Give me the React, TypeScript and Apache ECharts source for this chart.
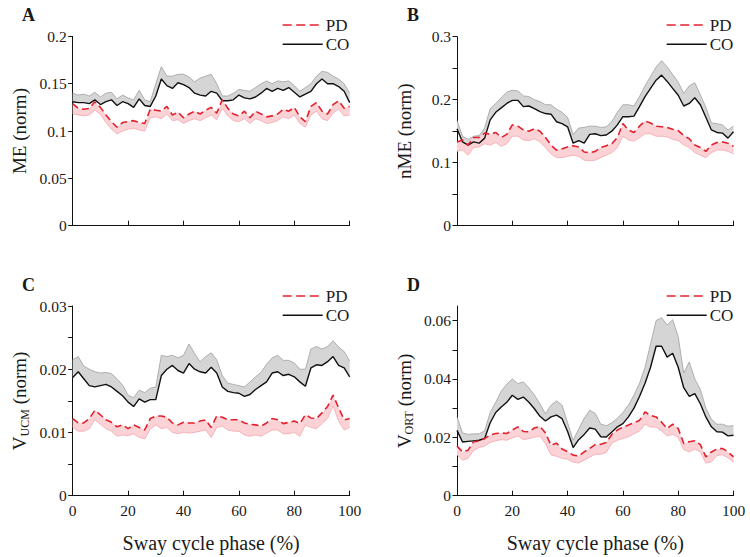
import React, { useEffect, useRef } from 'react';
import * as echarts from 'echarts';

const phase = [0, 2, 4, 6, 8, 10, 12, 14, 16, 18, 20, 22, 24, 26, 28, 30, 32, 34, 36, 38, 40, 42, 44, 46, 48, 50, 52, 54, 56, 58, 60, 62, 64, 66, 68, 70, 72, 74, 76, 78, 80, 82, 84, 86, 88, 90, 92, 94, 96, 98, 100];

// Panel A: ME
const meCoMean = [0.131, 0.130, 0.130, 0.129, 0.133, 0.128, 0.131, 0.133, 0.127, 0.131, 0.129, 0.125, 0.134, 0.127, 0.126, 0.137, 0.155, 0.148, 0.145, 0.151, 0.149, 0.146, 0.140, 0.138, 0.137, 0.142, 0.140, 0.132, 0.132, 0.133, 0.138, 0.135, 0.134, 0.136, 0.140, 0.145, 0.142, 0.145, 0.143, 0.146, 0.141, 0.136, 0.139, 0.142, 0.150, 0.155, 0.150, 0.150, 0.147, 0.142, 0.130];
const meCoUpper = [0.140, 0.138, 0.139, 0.137, 0.141, 0.136, 0.140, 0.141, 0.134, 0.138, 0.135, 0.133, 0.143, 0.133, 0.131, 0.150, 0.168, 0.158, 0.158, 0.160, 0.160, 0.157, 0.152, 0.156, 0.158, 0.160, 0.150, 0.137, 0.137, 0.140, 0.144, 0.143, 0.142, 0.146, 0.150, 0.153, 0.150, 0.153, 0.152, 0.153, 0.148, 0.142, 0.146, 0.150, 0.158, 0.163, 0.162, 0.158, 0.155, 0.150, 0.140];
const mePdMean = [0.129, 0.124, 0.123, 0.124, 0.131, 0.125, 0.117, 0.110, 0.104, 0.109, 0.110, 0.111, 0.109, 0.108, 0.123, 0.122, 0.121, 0.126, 0.117, 0.120, 0.114, 0.118, 0.121, 0.118, 0.122, 0.125, 0.119, 0.133, 0.124, 0.118, 0.116, 0.121, 0.114, 0.121, 0.118, 0.115, 0.116, 0.118, 0.123, 0.121, 0.125, 0.115, 0.110, 0.126, 0.130, 0.121, 0.118, 0.128, 0.132, 0.124, 0.126];
const mePdLower = [0.118, 0.117, 0.116, 0.117, 0.122, 0.118, 0.109, 0.102, 0.097, 0.100, 0.102, 0.103, 0.101, 0.100, 0.114, 0.115, 0.113, 0.118, 0.111, 0.112, 0.108, 0.111, 0.113, 0.111, 0.114, 0.117, 0.112, 0.124, 0.116, 0.111, 0.110, 0.113, 0.108, 0.113, 0.111, 0.108, 0.109, 0.111, 0.115, 0.113, 0.117, 0.108, 0.104, 0.117, 0.121, 0.113, 0.111, 0.119, 0.123, 0.116, 0.117];

// Panel B: nME
const nmeCoMean = [0.154, 0.133, 0.128, 0.133, 0.131, 0.139, 0.168, 0.180, 0.187, 0.194, 0.199, 0.199, 0.189, 0.190, 0.186, 0.181, 0.178, 0.177, 0.165, 0.162, 0.157, 0.131, 0.135, 0.131, 0.145, 0.146, 0.143, 0.144, 0.150, 0.160, 0.173, 0.173, 0.174, 0.189, 0.205, 0.218, 0.231, 0.239, 0.229, 0.218, 0.207, 0.190, 0.194, 0.203, 0.192, 0.172, 0.152, 0.148, 0.147, 0.139, 0.149];
const nmeCoUpper = [0.167, 0.142, 0.137, 0.142, 0.143, 0.155, 0.186, 0.194, 0.203, 0.212, 0.215, 0.214, 0.206, 0.205, 0.200, 0.197, 0.192, 0.192, 0.185, 0.180, 0.172, 0.145, 0.155, 0.156, 0.158, 0.158, 0.156, 0.157, 0.165, 0.180, 0.192, 0.192, 0.190, 0.205, 0.222, 0.237, 0.252, 0.262, 0.252, 0.240, 0.228, 0.210, 0.222, 0.227, 0.208, 0.188, 0.163, 0.162, 0.160, 0.152, 0.158];
const nmePdMean = [0.133, 0.136, 0.128, 0.140, 0.140, 0.147, 0.145, 0.148, 0.140, 0.145, 0.160, 0.158, 0.152, 0.150, 0.154, 0.150, 0.140, 0.128, 0.120, 0.122, 0.125, 0.127, 0.125, 0.117, 0.116, 0.118, 0.124, 0.127, 0.130, 0.140, 0.162, 0.152, 0.148, 0.158, 0.166, 0.163, 0.158, 0.157, 0.156, 0.153, 0.151, 0.143, 0.138, 0.128, 0.124, 0.118, 0.128, 0.132, 0.133, 0.131, 0.126];
const nmePdLower = [0.118, 0.120, 0.112, 0.124, 0.125, 0.130, 0.128, 0.132, 0.126, 0.130, 0.142, 0.142, 0.136, 0.135, 0.138, 0.133, 0.124, 0.114, 0.108, 0.108, 0.110, 0.112, 0.110, 0.104, 0.103, 0.104, 0.108, 0.112, 0.116, 0.124, 0.142, 0.136, 0.134, 0.140, 0.146, 0.146, 0.142, 0.142, 0.141, 0.137, 0.135, 0.128, 0.124, 0.116, 0.112, 0.108, 0.116, 0.120, 0.120, 0.118, 0.114];

// Panel C: V_UCM
const ucmCoMean = [0.0187, 0.0196, 0.0185, 0.0174, 0.0172, 0.0174, 0.0176, 0.0172, 0.0165, 0.0158, 0.0148, 0.0141, 0.0153, 0.0148, 0.0152, 0.0152, 0.0190, 0.0200, 0.0206, 0.0198, 0.0194, 0.0209, 0.0200, 0.0196, 0.0194, 0.0203, 0.0194, 0.0172, 0.0165, 0.0163, 0.0162, 0.0157, 0.0160, 0.0168, 0.0174, 0.0180, 0.0194, 0.0196, 0.0190, 0.0192, 0.0188, 0.0180, 0.0173, 0.0202, 0.0207, 0.0206, 0.0212, 0.0220, 0.0206, 0.0202, 0.0188];
const ucmCoUpper = [0.0215, 0.0220, 0.0205, 0.0200, 0.0196, 0.0194, 0.0195, 0.0193, 0.0185, 0.0175, 0.0159, 0.0155, 0.0167, 0.0163, 0.0170, 0.0172, 0.0222, 0.0220, 0.0222, 0.0218, 0.0222, 0.0240, 0.0225, 0.0212, 0.0220, 0.0226, 0.0215, 0.0190, 0.0178, 0.0176, 0.0174, 0.0172, 0.0180, 0.0188, 0.0195, 0.0208, 0.0218, 0.0222, 0.0214, 0.0214, 0.0210, 0.0200, 0.0200, 0.0232, 0.0236, 0.0232, 0.0236, 0.0245, 0.0235, 0.0228, 0.0213];
const ucmPdMean = [0.0122, 0.0115, 0.0115, 0.0122, 0.0135, 0.0128, 0.0120, 0.0116, 0.0109, 0.0112, 0.0106, 0.0112, 0.0108, 0.0104, 0.0122, 0.0126, 0.0126, 0.0124, 0.0115, 0.0112, 0.0116, 0.0115, 0.0115, 0.0118, 0.0120, 0.0108, 0.0126, 0.0124, 0.0120, 0.0120, 0.0120, 0.0115, 0.0113, 0.0112, 0.0110, 0.0115, 0.0122, 0.0120, 0.0114, 0.0116, 0.0118, 0.0114, 0.0128, 0.0123, 0.0122, 0.0131, 0.0141, 0.0159, 0.0139, 0.0120, 0.0122];
const ucmPdLower = [0.0108, 0.0102, 0.0102, 0.0106, 0.0120, 0.0113, 0.0106, 0.0102, 0.0094, 0.0096, 0.0095, 0.0098, 0.0092, 0.0090, 0.0105, 0.0112, 0.0106, 0.0108, 0.0100, 0.0098, 0.0100, 0.0099, 0.0100, 0.0102, 0.0104, 0.0092, 0.0108, 0.0110, 0.0104, 0.0102, 0.0102, 0.0096, 0.0094, 0.0096, 0.0094, 0.0099, 0.0104, 0.0104, 0.0098, 0.0098, 0.0100, 0.0094, 0.0112, 0.0108, 0.0106, 0.0114, 0.0122, 0.0142, 0.0118, 0.0104, 0.0108];

// Panel D: V_ORT
const ortCoMean = [0.0224, 0.0184, 0.0186, 0.0188, 0.0190, 0.0196, 0.0250, 0.0285, 0.0304, 0.0320, 0.0344, 0.0330, 0.0338, 0.0320, 0.0298, 0.0272, 0.0256, 0.0270, 0.0276, 0.0264, 0.0220, 0.0165, 0.0192, 0.0210, 0.0232, 0.0228, 0.0202, 0.0201, 0.0218, 0.0236, 0.0247, 0.0270, 0.0300, 0.0340, 0.0385, 0.0440, 0.0512, 0.0512, 0.0475, 0.0488, 0.0440, 0.0370, 0.0340, 0.0350, 0.0315, 0.0270, 0.0236, 0.0219, 0.0218, 0.0205, 0.0207];
const ortCoUpper = [0.0270, 0.0215, 0.0210, 0.0212, 0.0212, 0.0222, 0.0285, 0.0320, 0.0358, 0.0382, 0.0400, 0.0384, 0.0390, 0.0370, 0.0345, 0.0315, 0.0280, 0.0310, 0.0325, 0.0310, 0.0250, 0.0190, 0.0228, 0.0265, 0.0293, 0.0282, 0.0245, 0.0240, 0.0250, 0.0265, 0.0285, 0.0310, 0.0345, 0.0385, 0.0440, 0.0520, 0.0600, 0.0610, 0.0585, 0.0603, 0.0545, 0.0420, 0.0458, 0.0400, 0.0365, 0.0300, 0.0262, 0.0245, 0.0245, 0.0238, 0.0240];
const ortPdMean = [0.0170, 0.0150, 0.0156, 0.0185, 0.0188, 0.0196, 0.0208, 0.0213, 0.0215, 0.0213, 0.0225, 0.0236, 0.0220, 0.0219, 0.0232, 0.0238, 0.0215, 0.0173, 0.0180, 0.0160, 0.0151, 0.0139, 0.0136, 0.0150, 0.0162, 0.0175, 0.0176, 0.0182, 0.0210, 0.0225, 0.0235, 0.0242, 0.0250, 0.0258, 0.0287, 0.0275, 0.0270, 0.0252, 0.0230, 0.0245, 0.0230, 0.0179, 0.0185, 0.0188, 0.0175, 0.0133, 0.0150, 0.0160, 0.0162, 0.0150, 0.0133];
const ortPdLower = [0.0140, 0.0122, 0.0128, 0.0155, 0.0165, 0.0170, 0.0182, 0.0188, 0.0192, 0.0190, 0.0198, 0.0205, 0.0192, 0.0196, 0.0200, 0.0205, 0.0178, 0.0140, 0.0135, 0.0128, 0.0125, 0.0115, 0.0112, 0.0122, 0.0132, 0.0142, 0.0142, 0.0148, 0.0180, 0.0190, 0.0196, 0.0202, 0.0212, 0.0222, 0.0245, 0.0235, 0.0235, 0.0222, 0.0205, 0.0210, 0.0200, 0.0158, 0.0150, 0.0160, 0.0150, 0.0112, 0.0116, 0.0138, 0.0140, 0.0130, 0.0115];

const legendNames = ['PD', 'CO'];

const FONT = 'Liberation Serif';
const TXT = '#1a1a1a';
const RED = '#e3202c';

const fmt = (v: number) => String(Number(v.toPrecision(6)));

const nameRich = {
  v: { fontSize: 19, fontFamily: FONT, color: TXT, lineHeight: 22, verticalAlign: 'middle' },
  s: { fontSize: 12, fontFamily: FONT, color: TXT, lineHeight: 12, verticalAlign: 'bottom' },
  n: { fontSize: 19, fontFamily: FONT, color: TXT, lineHeight: 22, verticalAlign: 'middle' },
};

const panels = [
  { letter: 'A', yName: '{n|ME (norm)}', max: 0.2, step: 0.05, labelStep: 0.05, tickValues: null as number[] | null,
    coMean: meCoMean, coUpper: meCoUpper, pdMean: mePdMean, pdLower: mePdLower,
    grid: { left: 72.7, top: 36.4, width: 277, height: 189.3 }, showX: false, legend: { x: 282.7, y: 25 }, letterPos: { x: 22, y: 6 } },
  { letter: 'B', yName: '{n|nME (norm)}', max: 0.3, step: 0.05, labelStep: 0.1, tickValues: null,
    coMean: nmeCoMean, coUpper: nmeCoUpper, pdMean: nmePdMean, pdLower: nmePdLower,
    grid: { left: 457, top: 36.7, width: 276.5, height: 189 }, showX: false, legend: { x: 666.7, y: 25 }, letterPos: { x: 407, y: 6 } },
  { letter: 'C', yName: '{v|V}{s|UCM}{n| (norm)}', max: 0.03, step: 0.005, labelStep: 0.01, tickValues: null,
    coMean: ucmCoMean, coUpper: ucmCoUpper, pdMean: ucmPdMean, pdLower: ucmPdLower,
    grid: { left: 72.7, top: 306, width: 277, height: 189.7 }, showX: true, legend: { x: 282.7, y: 296 }, letterPos: { x: 22, y: 276 } },
  { letter: 'D', yName: '{v|V}{s|ORT}{n| (norm)}', max: 0.065, step: 0.01, labelStep: 0.02, tickValues: [0, 0.01, 0.02, 0.03, 0.04, 0.05, 0.06],
    coMean: ortCoMean, coUpper: ortCoUpper, pdMean: ortPdMean, pdLower: ortPdLower,
    grid: { left: 457, top: 306, width: 276.5, height: 189.7 }, showX: true, legend: { x: 666.7, y: 296 }, letterPos: { x: 407, y: 276 } },
];

function pairs(vals: number[]) {
  return phase.map((x, j) => [x, vals[j]]);
}

function bandSeries(i: number, lower: number[], upper: number[], fill: string) {
  return {
    type: 'custom', xAxisIndex: i, yAxisIndex: i, coordinateSystem: 'cartesian2d',
    data: phase.map((x, j) => [x, lower[j], upper[j]]),
    encode: { x: 0, y: [1, 2] },
    clip: true, silent: true, z: 1,
    renderItem: (params: any, api: any) => {
      if (params.dataIndex !== 0) return null;
      const top = phase.map((x, j) => api.coord([x, upper[j]]));
      const bot = phase.map((x, j) => api.coord([x, lower[j]])).reverse();
      return { type: 'polygon', shape: { points: top.concat(bot) }, style: { fill, stroke: 'none' } };
    },
  };
}

function buildOption() {
  const grid: any[] = [];
  const xAxis: any[] = [];
  const yAxis: any[] = [];
  const series: any[] = [];
  const graphic: any[] = [];

  panels.forEach((p, i) => {
    grid.push({ ...p.grid, containLabel: false, outerBoundsMode: 'none' });
    xAxis.push({
      type: 'value', gridIndex: i, min: 0, max: 100, interval: 20,
      axisLine: { show: true, onZero: false, lineStyle: { color: '#111', width: 1 } },
      axisTick: { show: true, inside: true, length: 5, lineStyle: { color: '#111', width: 1 } },
      splitLine: { show: false },
      axisLabel: { show: p.showX, fontFamily: FONT, fontSize: 15.5, color: TXT, margin: 7 },
      name: p.showX ? 'Sway cycle phase (%)' : '',
      nameLocation: 'middle', nameGap: 37,
      nameTextStyle: { fontFamily: FONT, fontSize: 20, color: TXT },
    });
    const yTick: any = { show: true, inside: false, length: 4.5, lineStyle: { color: '#111', width: 1 } };
    if (p.tickValues) yTick.customValues = p.tickValues;
    yAxis.push({
      type: 'value', gridIndex: i, min: 0, max: p.max, interval: p.step,
      axisLine: { show: true, onZero: false, lineStyle: { color: '#111', width: 1 } },
      axisTick: yTick,
      splitLine: { show: false },
      axisLabel: {
        fontFamily: FONT, fontSize: 15.5, color: TXT, margin: 6,
        formatter: (v: number) => {
          const k = v / p.labelStep;
          return Math.abs(k - Math.round(k)) < 1e-6 ? fmt(v) : '';
        },
      },
      name: p.yName, nameLocation: 'middle', nameGap: 42, nameRotate: 90,
      nameTextStyle: { fontFamily: FONT, fontSize: 19, color: TXT, rich: nameRich },
    });

    const common = { type: 'line', xAxisIndex: i, yAxisIndex: i, showSymbol: false, symbol: 'none', silent: true };
    series.push(bandSeries(i, p.coMean, p.coUpper, '#d5d5d5'));
    series.push(bandSeries(i, p.pdLower, p.pdMean, '#fbd2d5'));
    series.push({ ...common, name: 'CO upper', data: pairs(p.coUpper), color: '#a0a0a0',
      lineStyle: { color: '#a0a0a0', width: 0.8 }, z: 2 });
    series.push({ ...common, name: 'PD lower', data: pairs(p.pdLower), color: '#f3a7ae',
      lineStyle: { color: '#f3a7ae', width: 0.8 }, z: 2 });
    series.push({ ...common, name: 'CO', data: pairs(p.coMean), color: '#111',
      lineStyle: { color: '#111', width: 1.4 }, z: 3 });
    series.push({ ...common, name: 'PD', data: pairs(p.pdMean), color: RED,
      lineStyle: { color: RED, width: 1.6, type: [7, 4] }, z: 4 });

    // legend (drawn as graphic elements)
    legendNames.forEach((nm, k) => {
      const y = p.legend.y + k * 19.3;
      graphic.push({
        type: 'line', shape: { x1: p.legend.x, y1: y, x2: p.legend.x + 40, y2: y },
        style: nm === 'PD'
          ? { stroke: RED, lineWidth: 1.6, lineDash: [9, 4.5] }
          : { stroke: '#111', lineWidth: 1.4 },
      });
      graphic.push({
        type: 'text', x: p.legend.x + 43, y,
        style: { text: nm, fontFamily: FONT, fontSize: 17, fill: TXT, verticalAlign: 'middle', align: 'left' },
      });
    });

    graphic.push({
      type: 'text', x: p.letterPos.x, y: p.letterPos.y,
      style: { text: p.letter, fontFamily: FONT, fontSize: 18, fontWeight: 'bold', fill: TXT },
    });
  });

  return {
    animation: false, backgroundColor: '#ffffff',
    textStyle: { fontFamily: FONT, color: TXT },
    grid, xAxis, yAxis, series, graphic,
  };
}

export default function App() {
  const ref = useRef<HTMLDivElement>(null);
  useEffect(() => {
    if (!ref.current) return;
    const chart = echarts.init(ref.current, undefined, { renderer: 'svg' });
    chart.setOption(buildOption() as any);
    return () => chart.dispose();
  }, []);
  return <div ref={ref} style={{ position: 'absolute', left: 0, top: 0, width: 750, height: 557 }} />;
}
